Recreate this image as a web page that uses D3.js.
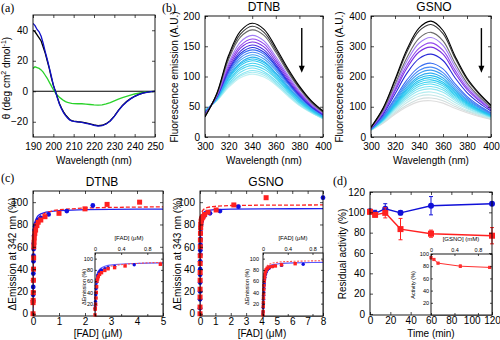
<!DOCTYPE html>
<html>
<head>
<meta charset="utf-8">
<script src="https://d3js.org/d3.v7.min.js"></script>
<style>
  body { margin: 0; background: #fff; }
</style>
</head>
<body>
<div id="fig"></div>
<script>
// ---------- data ----------
// (a) CD spectra
var cdWave = [190,191,192,193,194,195,196,197,198,199,200,201,202,203,204,205,206,207,208,209,210,
              212,214,216,218,220,222,224,226,228,230,232,234,236,238,240,242,244,246,248,250];
var cdBlack = [40,39,37,35,33,29,25,20,15,9,4,0,-4,-8,-11,-13.5,-15.5,-17,-18.5,-19.2,-19.6,
               -20,-20.3,-20.8,-21.4,-22.1,-22.5,-22.3,-21.3,-19.3,-16.3,-12.5,-9.3,-6.8,-4.8,-3.3,-2.1,-1.2,-0.6,-0.3,-0.1];
var cdBlue = [44.5,43,40.5,39,36,31.5,26,21,15.5,10,4,0,-4.5,-8.5,-11.5,-14,-16,-17.5,-18.8,-19.4,-19.8,
              -20.1,-20.4,-21,-21.6,-22.3,-22.8,-22.5,-21.5,-19.5,-16.5,-12.7,-9.5,-7,-5,-3.4,-2.2,-1.3,-0.7,-0.3,-0.1];
var cdGreen = [15,16,15.5,15,14,12.5,10.5,8.5,6,3.5,1,-1,-2.5,-4,-5,-6,-6.8,-7.3,-7.7,-8,-8.1,
               -8.2,-8.2,-8.4,-8.7,-9,-9.1,-8.9,-8.3,-7.4,-6.3,-5.2,-4.2,-3.3,-2.5,-1.8,-1.2,-0.8,-0.4,-0.2,-0.1];

// (b) fluorescence spectra
var specWave = [300,310,320,330,340,350,360,370,380,390,400];
var dtnbSpectra = [
  [33,72,135,175,188,178,148,114,84,60,43],
  [34,71,132,170,183,173,144,111,82,59,42],
  [35,70,128,165,177,168,140,108,80,57,41],
  [36,69,122,157,168,159,133,103,76,55,40],
  [37,68,119,151,162,154,129,100,74,54,39],
  [37,68,115,147,157,149,125,97,72,53,38],
  [38,67,112,142,152,144,121,94,70,51,37],
  [39,66,110,138,148,140,118,92,69,50,37],
  [39,66,107,135,144,137,116,90,67,50,36],
  [40,65,105,131,140,133,113,88,66,49,36],
  [40,65,102,127,136,129,110,85,64,48,35],
  [41,64,100,123,132,125,106,83,63,47,34],
  [41,64,98,121,129,123,105,82,62,46,34],
  [42,63,96,118,126,120,102,80,60,45,33],
  [42,63,93,114,122,116,99,78,59,44,33],
  [43,62,91,111,118,112,97,76,57,43,32],
  [44,61,88,107,114,108,93,74,56,42,32],
  [44,61,86,103,110,105,90,71,54,41,31],
  [45,60,84,101,107,102,88,70,53,41,30],
  [45,60,82,98,104,99,86,68,52,40,30]
];
var dtnbColors = ["#000000","#3a3a3a","#6a6a6a","#a27ef5","#9448ee","#7a30e2","#4a2ee0","#2438e0",
                  "#3a6ff2","#4a8af6","#3ea2f2","#2eb2f0","#22c0f0","#30c8f0","#40d0f0","#52d8f0",
                  "#70e0f2","#8ee6f2","#a8ecf2","#c0f0f2"];
var gsnoSpectra = [
  [32,95,190,290,360,383,352,268,195,145,105],
  [32,93,185,282,350,372,342,261,190,142,103],
  [31,88,174,263,326,346,318,244,179,134,98],
  [30,85,166,251,310,329,303,233,171,129,95],
  [29,81,158,238,293,311,286,221,163,124,92],
  [29,79,152,228,281,297,274,211,157,120,90],
  [28,74,142,211,259,274,253,196,147,113,86],
  [27,69,129,189,231,244,225,176,134,104,80],
  [26,66,124,180,220,231,213,168,129,100,78],
  [26,64,119,173,210,221,204,161,124,98,76],
  [25,62,115,166,201,211,195,155,120,95,74],
  [25,61,111,160,194,203,188,150,116,92,73],
  [25,59,108,155,187,196,181,145,113,90,72],
  [25,58,105,150,181,189,175,140,110,88,70],
  [24,57,102,145,174,182,169,136,107,86,69],
  [24,55,99,140,168,175,162,131,104,84,68],
  [24,54,96,134,160,167,155,126,101,82,66],
  [23,52,92,128,153,159,148,121,97,79,65],
  [23,50,88,121,144,149,138,114,93,76,63],
  [23,49,83,114,135,139,129,107,88,74,61],
  [22,47,79,106,125,129,120,101,84,71,59],
  [22,45,75,100,117,120,112,95,80,68,58]
];
var gsnoColors = ["#000000","#3a3a3a","#6a6a6a","#a27ef5","#9448ee","#7a30e2","#2a2ad8","#3a6ff2",
                  "#4a8af6","#3e9ef2","#30acf0","#22bcf0","#22c4f0","#30ccf0","#40d4f0","#5adcf0",
                  "#78e2f2","#96e8f2","#b2ecf0","#c4e8e8","#d2dede","#dedede"];

// (c) titration, DTNB
var dFitX = [0,0.005,0.01,0.015,0.02,0.03,0.05,0.08,0.1,0.15,0.2,0.3,0.5,0.8,1,2,3,4,5];
var dFitBlue = [0,25,45,58,65,72,78,82,84,86.5,88,89.5,91,92,92.5,93.3,93.6,93.7,93.8];
var dFitRed = [0,18,34,46,54,63,71,77,79,83,85.5,88,90.5,92.5,93.3,94.8,95.3,95.6,95.8];
var dBlueX = [0.004,0.006,0.008,0.01,0.012,0.015,0.018,0.02,0.025,0.03,0.04,0.06,0.08,0.1,0.15,0.2,0.3,0.6,1.3,2.3];
var dBlueY = [12,17,24,30,36,40,47,52,58,63,70,75,78,80,82,84,86,89,92,97];
var dRedX = [0,0.002,0.005,0.01,0.015,0.02,0.025,0.03,0.04,0.05,0.07,0.1,0.15,0.2,0.3,0.46,1.0,2.0,2.85,4.1];
var dRedY = [0,10,12,19,30,40,50,60,64,68,72,75,79,82,84,87,90,94,98,100];

// (c) titration, GSNO
var gFitX = [0,0.005,0.01,0.015,0.02,0.03,0.05,0.08,0.1,0.15,0.2,0.3,0.5,0.8,1,2,4,6,8];
var gFitBlue = [0,30,50,62,69,76,82,85.5,87,89,90,91.5,92.5,93,93.3,93.8,94,94.1,94.2];
var gFitRed = [0,32,53,65,72,79,85,88.5,90,92,93,94.3,95.3,96,96.3,97,97.3,97.4,97.5];
var gBlueX = [0.002,0.004,0.006,0.008,0.01,0.012,0.015,0.018,0.02,0.025,0.03,0.04,0.05,0.07,0.1,0.15,0.3,0.65,1.3,2.5,8];
var gBlueY = [5,13,20,28,35,40,47,53,57,62,67,72,76,80,83,86,88,90,92,96,104];
var gRedX = [0,0.002,0.004,0.006,0.008,0.01,0.012,0.015,0.02,0.025,0.03,0.04,0.05,0.07,0.1,0.15,0.2,0.3,0.52,1.05,2.2,4.3];
var gRedY = [0,6,15,22,30,37,45,52,60,66,72,77,80,83,85,86,87,89,91,93,97.5,104];

// (d) residual activity
var timeMin = [0,5,15,30,60,120];
var blueAct = [101,99,103.5,99.5,106.5,108.5];
var blueErr = [1,3,5,2,9,1];
var redAct = [100.5,97.5,99.5,83.5,79,77];
var redErr = [2,2,5,10.5,3.5,8];
var gsnoMM = [0,0.05,0.12,0.5,1.0];
var insetAct = [94,91,85,80,78];
var insetErr = [2,1,1,2,1];

// ---------- drawing ----------
var FONT = "'Liberation Sans', Arial, sans-serif";
var svg = d3.select("#fig").append("svg")
  .attr("width", 500).attr("height", 340)
  .style("font-family", FONT);
svg.append("rect").attr("width", 500).attr("height", 340).attr("fill", "#fff");
var defs = svg.append("defs");
var clipN = 0;

// builds scales, a data layer and a MATLAB-like box with inward ticks
function axes(o) {
  var x = d3.scaleLinear().domain(o.xd).range([o.l, o.r]);
  var y = d3.scaleLinear().domain(o.yd).range([o.b, o.t]);
  var fs = o.fs || 10, tk = o.tk || 3;
  var id = "clip" + (clipN++);
  defs.append("clipPath").attr("id", id).append("rect")
    .attr("x", o.l).attr("y", o.t).attr("width", o.r - o.l).attr("height", o.b - o.t);
  var data = svg.append("g");
  if (o.bg) data.append("rect").attr("x", o.l).attr("y", o.t)
    .attr("width", o.r - o.l).attr("height", o.b - o.t).attr("fill", "#fff");
  var g = svg.append("g");
  var xa = o.xTop ? d3.axisTop(x) : d3.axisBottom(x);
  var xm = o.xTop ? d3.axisBottom(x) : d3.axisTop(x);
  var parts = [
    g.append("g").attr("transform", "translate(0," + (o.xTop ? o.t : o.b) + ")")
      .call(xa.tickValues(o.xt).tickSize(-tk).tickSizeOuter(0).tickPadding(o.xpad || 6)
        .tickFormat(o.xf || d3.format(""))),
    g.append("g").attr("transform", "translate(0," + (o.xTop ? o.b : o.t) + ")")
      .call(xm.tickValues(o.xt).tickSize(-tk).tickSizeOuter(0).tickFormat("")),
    g.append("g").attr("transform", "translate(" + o.l + ",0)")
      .call(d3.axisLeft(y).tickValues(o.yt).tickSize(-tk).tickSizeOuter(0).tickPadding(o.ypad || 5)),
    g.append("g").attr("transform", "translate(" + o.r + ",0)")
      .call(d3.axisRight(y).tickValues(o.yt).tickSize(-tk).tickSizeOuter(0).tickFormat(""))
  ];
  parts.forEach(function(p) { p.attr("font-size", fs).attr("font-family", FONT); });
  g.selectAll("path.domain").remove();
  g.selectAll("line").attr("stroke", "#000").attr("stroke-width", 0.7);
  g.selectAll("text").attr("fill", "#000");
  g.append("rect").attr("x", o.l).attr("y", o.t)
    .attr("width", o.r - o.l).attr("height", o.b - o.t)
    .attr("fill", "none").attr("stroke", "#000").attr("stroke-width", 0.9);
  return {x: x, y: y, d: data, clip: "url(#" + id + ")"};
}

function label(txt, x, y, size, rot, anchor) {
  var t = svg.append("text").attr("font-size", size).attr("text-anchor", anchor || "middle")
    .attr("fill", "#000");
  if (rot) t.attr("transform", "translate(" + x + "," + y + ") rotate(-90)");
  else t.attr("x", x).attr("y", y);
  t.text(txt);
  return t;
}
function panelTag(txt, x, y) {
  svg.append("text").attr("x", x).attr("y", y).attr("font-size", 12)
    .attr("font-family", "'Liberation Serif', 'Times New Roman', serif").text(txt);
}
function curve(A, xs, ys, color, w, dash, kind) {
  var line = d3.line().x(function(d, i) { return A.x(xs[i]); })
    .y(function(d) { return A.y(d); }).curve(kind || d3.curveLinear);
  A.d.append("path").datum(ys).attr("d", line).attr("fill", "none").attr("clip-path", A.clip)
    .attr("stroke", color).attr("stroke-width", w).attr("stroke-dasharray", dash || null);
}
function dots(A, xs, ys, color, r, maxX) {
  A.d.selectAll(null).data(ys.filter(function(d, i) { return xs[i] <= maxX; }))
    .enter().append("circle")
    .attr("cx", function(d, i) { return A.x(xs[i]); }).attr("cy", function(d) { return A.y(d); })
    .attr("r", r).attr("fill", color);
}
function squares(A, xs, ys, color, s, maxX) {
  A.d.selectAll(null).data(ys.filter(function(d, i) { return xs[i] <= maxX; }))
    .enter().append("rect")
    .attr("x", function(d, i) { return A.x(xs[i]) - s / 2; })
    .attr("y", function(d) { return A.y(d) - s / 2; })
    .attr("width", s).attr("height", s).attr("fill", color);
}
function errbars(A, xs, ys, es, color, cap) {
  ys.forEach(function(v, i) {
    var cx = A.x(xs[i]);
    A.d.append("line").attr("x1", cx).attr("x2", cx).attr("y1", A.y(v - es[i])).attr("y2", A.y(v + es[i]))
      .attr("stroke", color).attr("stroke-width", 1);
    [v - es[i], v + es[i]].forEach(function(e) {
      A.d.append("line").attr("x1", cx - cap).attr("x2", cx + cap).attr("y1", A.y(e)).attr("y2", A.y(e))
        .attr("stroke", color).attr("stroke-width", 1);
    });
  });
}

// ---- (a) ----
var pa = axes({l: 33, r: 155, t: 15, b: 137, xd: [190, 250], yd: [-30, 50],
  xt: [190, 200, 210, 220, 230, 240, 250], yt: [-20, 0, 20, 40]});
pa.d.append("line").attr("x1", pa.x(190)).attr("x2", pa.x(250)).attr("y1", pa.y(0)).attr("y2", pa.y(0))
  .attr("stroke", "#000").attr("stroke-width", 1);
curve(pa, cdWave, cdGreen, "#2ad22a", 1.3);
curve(pa, cdWave, cdBlack, "#000", 1.3);
curve(pa, cdWave, cdBlue, "#1010c8", 1.3);
panelTag("(a)", 1, 12);
label("Wavelength (nm)", 94, 164, 10);
var ya = svg.append("text").attr("font-size", 10).attr("text-anchor", "middle")
  .attr("transform", "translate(10,78) rotate(-90)");
ya.append("tspan").text("θ (deg cm");
ya.append("tspan").attr("font-size", 7).attr("dy", -4).text("2");
ya.append("tspan").attr("dy", 4).text(" dmol");
ya.append("tspan").attr("font-size", 7).attr("dy", -4).text("-1");
ya.append("tspan").attr("dy", 4).text(")");

// ---- (b) ----
function spectraPanel(o, spectra, colors, arrow) {
  var A = axes(o);
  for (var i = spectra.length - 1; i >= 0; i--)
    curve(A, specWave, spectra[i], colors[i], 1.1, null, d3.curveCatmullRom.alpha(0.5));
  var ax = A.x(arrow[0]);
  A.d.append("line").attr("x1", ax).attr("x2", ax).attr("y1", A.y(arrow[1])).attr("y2", A.y(arrow[2]) - 5)
    .attr("stroke", "#000").attr("stroke-width", 1.4);
  var ty = A.y(arrow[2]);
  A.d.append("path").attr("d", "M" + (ax - 3) + "," + (ty - 7) + "L" + (ax + 3) + "," + (ty - 7) + "L" + ax + "," + ty + "Z")
    .attr("fill", "#000");
  return A;
}
var pbD = spectraPanel({l: 205, r: 323, t: 16, b: 137, xd: [300, 400], yd: [0, 200],
  xt: [300, 320, 340, 360, 380, 400], yt: [0, 50, 100, 150, 200]}, dtnbSpectra, dtnbColors, [382, 180, 106]);
var pbG = spectraPanel({l: 371, r: 491, t: 16, b: 137, xd: [300, 400], yd: [0, 400],
  xt: [300, 320, 340, 360, 380, 400], yt: [0, 100, 200, 300, 400]}, gsnoSpectra, gsnoColors, [392, 360, 212]);
panelTag("(b)", 162, 12);
label("DTNB", 264, 11, 12);
label("GSNO", 434, 11, 12);
label("Wavelength (nm)", 264, 164, 10);
label("Wavelength (nm)", 431, 164, 10);
label("Fluorescence emission (A.U.)", 178, 77, 10, true);
label("Fluorescence emission (A.U.)", 343, 77, 10, true);

// ---- (c) ----
function titration(o, io, fx, fb, fr, bx, by, rx, ry) {
  var A = axes(o);
  curve(A, fx, fb, "#2222ee", 1.3);
  curve(A, fx, fr, "#ff2020", 1.3, "4,2");
  dots(A, bx, by, "#1010e0", 2.4, 99);
  squares(A, rx, ry, "#ff2020", 5, 99);
  var I = axes(io);
  curve(I, fx, fb, "#5a5aff", 1.1);
  curve(I, fx, fr, "#ff5050", 1.1, "2,1.5");
  dots(I, bx, by, "#1010e0", 1.7, io.xd[1]);
  squares(I, rx, ry, "#ff2020", 3.4, io.xd[1]);
  return A;
}
var insetCommon = {t: 253, b: 316, yd: [-2, 110], xTop: true, fs: 5.5, tk: 2, xpad: 2,
  xt: [0, 0.4, 0.8], yt: [20, 40, 60, 80, 100], bg: true};
titration({l: 33, r: 163, t: 191, b: 316, xd: [0, 5], yd: [-2, 110],
    xt: [0, 1, 2, 3, 4, 5], yt: [0, 20, 40, 60, 80, 100], xpad: 2},
  Object.assign({l: 95, r: 163, xd: [0, 1.04], ypad: 2}, insetCommon),
  dFitX, dFitBlue, dFitRed, dBlueX, dBlueY, dRedX, dRedY);
titration({l: 200, r: 323, t: 191, b: 316, xd: [0, 8], yd: [-2, 110],
    xt: [0, 1, 2, 3, 4, 5, 6, 7, 8], yt: [0, 20, 40, 60, 80, 100], xpad: 2},
  Object.assign({l: 263, r: 323, xd: [0, 0.97], ypad: 4}, insetCommon),
  gFitX, gFitBlue, gFitRed, gBlueX, gBlueY, gRedX, gRedY);
panelTag("(c)", 1, 182);
label("DTNB", 102, 186, 12);
label("GSNO", 266, 186, 12);
label("[FAD] (μM)", 98, 337, 10);
label("[FAD] (μM)", 262, 337, 10);
label("ΔEmission at 342 nm (%)", 16, 254, 10, true);
label("ΔEmission at 343 nm (%)", 181, 254, 10, true);
label("[FAD] (μM)", 129, 240, 6);
label("[FAD] (μM)", 293, 240, 6);
label("ΔEmission (%)", 86, 287, 5.5, true);
label("ΔEmission (%)", 249, 287, 5.5, true);

// ---- (d) ----
var pd = axes({l: 370, r: 492, t: 192, b: 315, xd: [0, 120], yd: [-1, 120],
  xt: [0, 20, 40, 60, 80, 100, 120], yt: [0, 20, 40, 60, 80, 100, 120], xpad: 2});
errbars(pd, timeMin, blueAct, blueErr, "#1010d8", 2);
curve(pd, timeMin, blueAct, "#1010d8", 1.4);
dots(pd, timeMin, blueAct, "#1010d8", 3, 999);
errbars(pd, timeMin, redAct, redErr, "#ff2020", 2);
curve(pd, timeMin, redAct, "#ff2020", 1.4);
squares(pd, timeMin, redAct, "#ff2020", 6, 999);
var pdi = axes({l: 431, r: 492, t: 254, b: 315, xd: [0, 1.04], yd: [0, 100], xTop: true,
  fs: 5.5, tk: 2, xpad: 2, ypad: 2, xt: [0, 0.4, 0.8], yt: [20, 40, 60, 80, 100], bg: true});
errbars(pdi, gsnoMM, insetAct, insetErr, "#ff3030", 1.2);
curve(pdi, gsnoMM, insetAct, "#ff3030", 1);
squares(pdi, gsnoMM, insetAct, "#ff3030", 3.2, 999);
panelTag("(d)", 333, 185);
label("Time (min)", 431, 337, 10);
label("Residual activity (%)", 346, 254, 10, true);
label("[GSNO] (mM)", 461, 241, 6);
label("Activity (%)", 415, 285, 5.5, true);
</script>
</body>
</html>
